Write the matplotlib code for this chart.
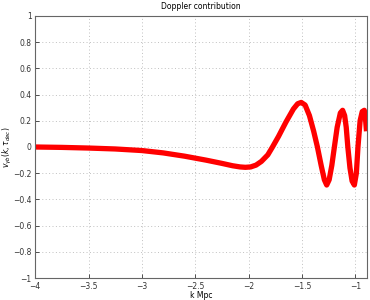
import numpy as np
import matplotlib
matplotlib.use("Agg")
import matplotlib.pyplot as plt

# values (log10 k vs Doppler term)
log_k = [-4.0, -3.75, -3.5, -3.25, -3.0, -2.8, -2.6, -2.4, -2.25, -2.15, -2.08,
         -2.03, -1.98, -1.93, -1.88, -1.82, -1.776, -1.72, -1.65, -1.58, -1.54, -1.507,
         -1.47, -1.43, -1.39, -1.355, -1.32, -1.29, -1.268, -1.245, -1.22, -1.196,
         -1.17, -1.14, -1.119, -1.10, -1.085, -1.07, -1.05, -1.03, -1.009, -0.99,
         -0.975, -0.955, -0.935, -0.916, -0.905, -0.895]
v_gb = [0.0, -0.003, -0.008, -0.015, -0.027, -0.045, -0.07, -0.10, -0.125, -0.143, -0.152,
        -0.155, -0.152, -0.138, -0.11, -0.06, 0.0, 0.08, 0.19, 0.29, 0.33, 0.34,
        0.32, 0.24, 0.12, 0.0, -0.14, -0.25, -0.29, -0.25, -0.14, 0.0,
        0.15, 0.26, 0.28, 0.24, 0.15, 0.0, -0.16, -0.26, -0.29, -0.2,
        0.0, 0.2, 0.27, 0.28, 0.22, 0.12]

x_ticks = [-4, -3.5, -3, -2.5, -2, -1.5, -1]
y_ticks = [-1, -0.8, -0.6, -0.4, -0.2, 0, 0.2, 0.4, 0.6, 0.8, 1]

fig = plt.figure(figsize=(3.7, 3.0), dpi=100)
ax = fig.add_axes([0.095, 0.073, 0.897, 0.874])
ax.plot(log_k, v_gb, color='red', lw=3.8, solid_joinstyle='round', solid_capstyle='butt')

ax.set_xlim(-4, -0.89)
ax.set_ylim(-1, 1)
ax.set_xticks(x_ticks)
ax.set_yticks(y_ticks)
ax.set_xticklabels([f"{t:g}".replace('-', '\u2212') for t in x_ticks])
ax.set_yticklabels([f"{t:g}".replace('-', '\u2212') for t in y_ticks])
ax.tick_params(direction='in', labelsize=5.5, length=3, width=0.6, colors='#333333', pad=2.5)
ax.grid(True, linestyle=(0, (1, 2.5)), color='#c0c0c0', lw=0.7)
for s in ax.spines.values():
    s.set_color('#666666')
    s.set_linewidth(0.8)

ax.set_title('Doppler contribution', fontsize=5.5, pad=5)
ax.set_xlabel('k Mpc', fontsize=5.5, labelpad=0)
ax.set_ylabel(r'$v_{\gamma b}(k,\tau_{dec})$', fontsize=5.5)
ax.yaxis.set_label_coords(-0.064, 0.5)

fig.savefig('out.png', dpi=100)
